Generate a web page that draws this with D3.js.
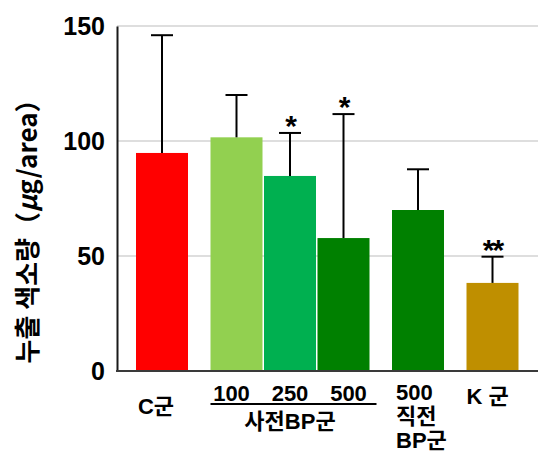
<!DOCTYPE html>
<html>
<head>
<meta charset="utf-8">
<script src="https://cdn.jsdelivr.net/npm/d3@7/dist/d3.min.js"></script>
<style>
  html, body { margin: 0; padding: 0; background: #fff; }
  svg text { font-family: "Liberation Sans", Arial, "Noto Sans CJK KR", sans-serif; font-weight: bold; fill: #000; }
</style>
</head>
<body>
<svg id="chart" width="538" height="455"></svg>
<script>
// Groups and the bars that belong to them
const groupNames = ["C군", "사전BP군", "직전BP군", "K 군"];
const barGroup   = [0, 1, 1, 1, 2, 3];
const barDose    = ["", "100", "250", "500", "500", ""];
const barMeans   = [94.8, 101.6, 84.8, 57.8, 70.0, 38.3];
const barErrors  = [51.2, 18.4, 18.7, 53.9, 17.7, 11.4];
const barSig     = ["", "", "*", "*", "", "**"];
const barColors  = ["#ff0000", "#92d050", "#00b050", "#008000", "#008000", "#bf8f00"];
const yTicks     = [0, 50, 100, 150];

const svg = d3.select("#chart");

const plot = { left: 117, right: 538, top: 26, bottom: 371 };

const y = d3.scaleLinear().domain([0, 150]).range([plot.bottom, plot.top]);

// Horizontal layout: bars of equal width, packed tightly inside a group,
// with a wider gap between groups.
const barW = 52, innerGap = 1.5, groupGap = 22.5, startX = 136;
const barX = [];
{
  let cx = startX;
  barGroup.forEach((g, i) => {
    if (i > 0) cx += (g === barGroup[i - 1]) ? innerGap : groupGap;
    barX.push(cx);
    cx += barW;
  });
}
const bx = i => barX[i];
const bc = i => bx(i) + barW / 2;

// Gridlines
svg.append("g")
  .selectAll("line")
  .data(yTicks.filter(t => t > 0))
  .join("line")
  .attr("x1", plot.left).attr("x2", plot.right)
  .attr("y1", d => y(d)).attr("y2", d => y(d))
  .attr("stroke", "#d3d3d3").attr("stroke-width", 1.6);

// Y axis with tick labels
const yAxis = svg.append("g")
  .attr("transform", `translate(${plot.left},0)`)
  .call(d3.axisLeft(y).tickValues(yTicks).tickSize(0).tickPadding(12).tickFormat(d3.format("d")));
yAxis.select(".domain").attr("stroke", "#1a1a1a").attr("stroke-width", 2);
yAxis.selectAll("text").style("font-size", "25px").attr("dy", "0.35em");

// Bars
const idx = d3.range(barMeans.length);
svg.append("g")
  .selectAll("rect")
  .data(idx)
  .join("rect")
  .attr("x", i => bx(i))
  .attr("width", barW)
  .attr("y", i => y(barMeans[i]))
  .attr("height", i => y(0) - y(barMeans[i]))
  .attr("fill", i => barColors[i]);

// Baseline
svg.append("line")
  .attr("x1", plot.left - 1).attr("x2", plot.right)
  .attr("y1", y(0)).attr("y2", y(0))
  .attr("stroke", "#3a3a3a").attr("stroke-width", 2);

// Upper error bars
const eb = svg.append("g").attr("stroke", "#000").attr("stroke-width", 2);
eb.selectAll("line.v")
  .data(idx).join("line").attr("class", "v")
  .attr("x1", i => bc(i)).attr("x2", i => bc(i))
  .attr("y1", i => y(barMeans[i])).attr("y2", i => y(barMeans[i] + barErrors[i]));
eb.selectAll("line.cap")
  .data(idx).join("line").attr("class", "cap")
  .attr("x1", i => bc(i) - 11).attr("x2", i => bc(i) + 11)
  .attr("y1", i => y(barMeans[i] + barErrors[i])).attr("y2", i => y(barMeans[i] + barErrors[i]));

// Significance marks
svg.append("g")
  .selectAll("text")
  .data(idx.filter(i => barSig[i]))
  .join("text")
  .attr("x", i => bc(i))
  .attr("y", i => y(barMeans[i] + barErrors[i]) + 3)
  .attr("text-anchor", "middle")
  .style("font-size", "30px")
  .style("letter-spacing", "-2px")
  .text(i => barSig[i]);

// Y axis title
svg.append("text")
  .attr("transform", "translate(37,225) rotate(-90)")
  .attr("text-anchor", "middle")
  .style("font-size", "26px")
  .style("font-family", "'Noto Sans CJK KR', sans-serif")
  .call(t => {
    t.append("tspan").text("누출 색소량（");
    t.append("tspan").style("font-style", "italic").text("μ");
    t.append("tspan").text("g/area）");
  });

// Category labels
const labels = svg.append("g").style("font-size", "22px");
const center = g => d3.mean(idx.filter(i => barGroup[i] === g), i => bc(i));

labels.append("text")
  .attr("x", center(0) - 6).attr("y", 414)
  .attr("text-anchor", "middle").text(groupNames[0]);

// Doses under the pre-treatment group, underlined
const preIdx = idx.filter(i => barGroup[i] === 1);
labels.selectAll("text.dose")
  .data(preIdx).join("text").attr("class", "dose")
  .attr("x", (i, k) => bc(i) + (k - 1) * 5)
  .attr("y", 401)
  .attr("text-anchor", "middle")
  .text(i => barDose[i]);
labels.append("line")
  .attr("x1", bx(preIdx[0])).attr("x2", bx(preIdx[2]) + barW + 7)
  .attr("y1", 404).attr("y2", 404)
  .attr("stroke", "#000").attr("stroke-width", 2);
labels.append("text")
  .attr("x", center(1)).attr("y", 429)
  .attr("text-anchor", "middle").text(groupNames[1]);

// Immediate-treatment group: dose, then the group name on two lines
const imm = idx.find(i => barGroup[i] === 2);
const immX = bx(imm) + 4;
labels.append("text").attr("x", immX).attr("y", 400).text(barDose[imm]);
labels.append("text").attr("x", immX).attr("y", 424).text(groupNames[2].slice(0, 2));
labels.append("text").attr("x", immX).attr("y", 448).text(groupNames[2].slice(2));

labels.append("text")
  .attr("x", center(3) - 5).attr("y", 404)
  .attr("text-anchor", "middle").text(groupNames[3]);
</script>
</body>
</html>
